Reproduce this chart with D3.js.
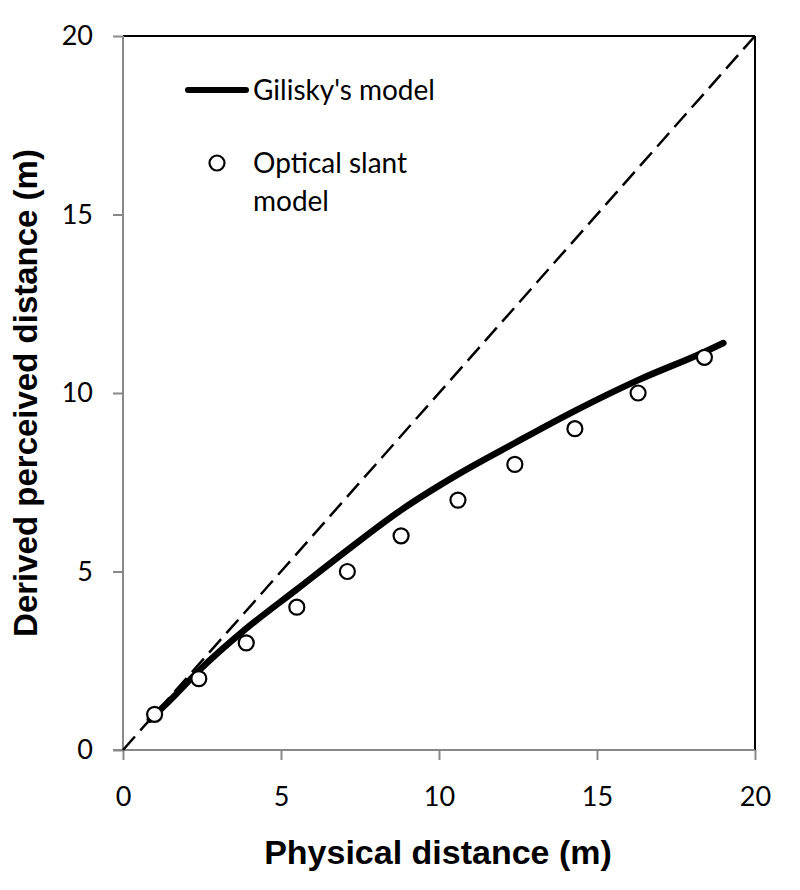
<!DOCTYPE html>
<html>
<head>
<meta charset="utf-8">
<script src="https://cdn.jsdelivr.net/npm/d3@7"></script>
<style>
  html, body { margin: 0; padding: 0; background: #fff; }
  svg { display: block; }
</style>
</head>
<body>
<svg id="chart" width="800" height="890"></svg>
<script>
// ---- data ----
const xTicks = [0, 5, 10, 15, 20];
const yTicks = [0, 5, 10, 15, 20];
const giliskyX = [0.85, 1.5, 2.4, 3.9, 5.5, 7.1, 8.8, 10.6, 12.4, 14.3, 16.3, 18.4, 19.0];
const giliskyY = [0.85, 1.4, 2.22, 3.4, 4.5, 5.6, 6.72, 7.72, 8.6, 9.5, 10.36, 11.15, 11.4];
const slantX = [1.0, 2.4, 3.9, 5.5, 7.1, 8.8, 10.6, 12.4, 14.3, 16.3, 18.4];
const slantY = [1, 2, 3, 4, 5, 6, 7, 8, 9, 10, 11];
const identity = [0, 20];
const legendLabels = ["Gilisky's model", "Optical slant", "model"];

const svg = d3.select("#chart");
const pL = 123, pR = 755, pT = 36, pB = 750;
const x = d3.scaleLinear().domain([0, 20]).range([pL, pR]);
const y = d3.scaleLinear().domain([0, 20]).range([pB, pT]);

const tickFont = "Lato, 'Open Sans', sans-serif";
const titleFont = "'Liberation Sans', Arial, sans-serif";

// frame top/right (black)
svg.append("line").attr("x1", pL).attr("x2", pR).attr("y1", pT).attr("y2", pT)
  .attr("stroke", "#000").attr("stroke-width", 2);
svg.append("line").attr("x1", pR).attr("x2", pR).attr("y1", pT).attr("y2", pB)
  .attr("stroke", "#000").attr("stroke-width", 2);

// axes
const xAxis = svg.append("g").attr("transform", `translate(0,${pB})`)
  .call(d3.axisBottom(x).tickValues(xTicks).tickSize(10).tickPadding(27).tickFormat(d3.format("d")));
const yAxis = svg.append("g").attr("transform", `translate(${pL},0)`)
  .call(d3.axisLeft(y).tickValues(yTicks).tickSize(10).tickPadding(20).tickFormat(d3.format("d")));
[xAxis, yAxis].forEach(g => {
  g.select(".domain").attr("stroke", "#888").attr("stroke-width", 2);
  g.selectAll(".tick line").attr("stroke", "#888").attr("stroke-width", 2);
  g.selectAll(".tick text").attr("fill", "#000").style("font-family", tickFont).style("font-size", "27px");
});
xAxis.select(".domain").attr("d", `M${pL - 10},0H${pR}`);
yAxis.select(".domain").attr("d", `M0,${pB}V${pT}`);

// identity dashed line
svg.append("line")
  .attr("x1", x(identity[0])).attr("y1", y(identity[0]))
  .attr("x2", x(identity[1])).attr("y2", y(identity[1]))
  .attr("stroke", "#000").attr("stroke-width", 2.5).attr("stroke-dasharray", "18,8");

// Gilisky's model
const gData = giliskyX.map((d, i) => [d, giliskyY[i]]);
svg.append("path").datum(gData)
  .attr("d", d3.line().x(d => x(d[0])).y(d => y(d[1])).curve(d3.curveMonotoneX))
  .attr("fill", "none").attr("stroke", "#000").attr("stroke-width", 6.5).attr("stroke-linecap", "round");

// Optical slant model
svg.selectAll("circle.pt").data(slantX.map((d, i) => [d, slantY[i]])).join("circle")
  .attr("class", "pt")
  .attr("cx", d => x(d[0])).attr("cy", d => y(d[1])).attr("r", 7.5)
  .attr("fill", "#fff").attr("stroke", "#000").attr("stroke-width", 2.2);

// legend
svg.append("line").attr("x1", 188).attr("x2", 246).attr("y1", 90).attr("y2", 90)
  .attr("stroke", "#000").attr("stroke-width", 6).attr("stroke-linecap", "round");
svg.append("text").attr("x", 253).attr("y", 100).text(legendLabels[0])
  .style("font-family", tickFont).style("font-size", "28px");
svg.append("circle").attr("cx", 217).attr("cy", 163).attr("r", 7.5)
  .attr("fill", "#fff").attr("stroke", "#000").attr("stroke-width", 2.2);
svg.append("text").attr("x", 253).attr("y", 173).text(legendLabels[1])
  .style("font-family", tickFont).style("font-size", "28px");
svg.append("text").attr("x", 253).attr("y", 211).text(legendLabels[2])
  .style("font-family", tickFont).style("font-size", "28px");

// axis titles
svg.append("text").attr("x", (pL + pR) / 2 - 1).attr("y", 864).attr("text-anchor", "middle")
  .style("font-family", titleFont).style("font-weight", "bold").style("font-size", "34px")
  .text("Physical distance (m)");
svg.append("text").attr("transform", `translate(37,${(pT + pB) / 2}) rotate(-90)`)
  .attr("text-anchor", "middle")
  .style("font-family", titleFont).style("font-weight", "bold").style("font-size", "33px")
  .text("Derived perceived distance (m)");
</script>
</body>
</html>
